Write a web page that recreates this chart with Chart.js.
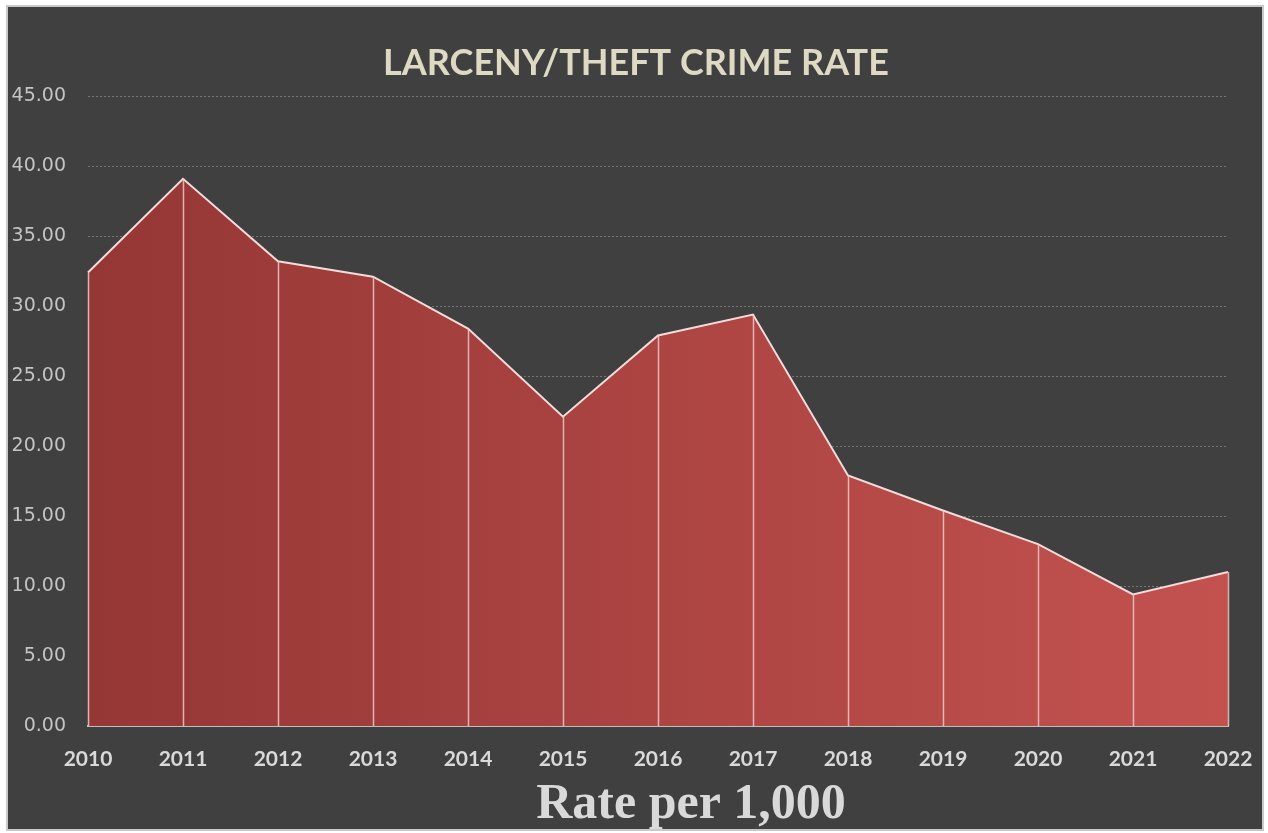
<!DOCTYPE html>
<html>
<head>
<meta charset="utf-8">
<script src="https://cdn.jsdelivr.net/npm/chart.js@4.4.1/dist/chart.umd.min.js"></script>
<style>
html,body{margin:0;padding:0;background:#ffffff;}
#caixa{position:absolute;left:6px;top:5px;width:1254px;height:822px;background:#404040;border:2px solid #c9c9c9;}
canvas{display:block;}
</style>
</head>
<body>
<div id="caixa"><canvas id="grafico"></canvas></div>
<script>

// anos e taxa de furto por 1.000 habitantes
const anos=["2010","2011","2012","2013","2014","2015","2016","2017","2018","2019","2020","2021","2022"];
const taxas=[32.4,39.1,33.2,32.1,28.4,22.1,27.9,29.4,17.9,15.4,13.0,9.4,11.0];

const tituloGrafico="LARCENY/THEFT CRIME RATE";
const tituloEixoX="Rate per 1,000";

///////////////////////////////////////////////////////////////

// linhas verticais de cada ponto até a base
const linhasQueda={
    id:"linhasQueda",
    afterDatasetsDraw(chart){
        const ctx=chart.ctx;
        const meta=chart.getDatasetMeta(0);
        const base=chart.scales.y.getPixelForValue(0);
        ctx.save();
        ctx.strokeStyle="rgba(238,200,200,0.85)";
        ctx.lineWidth=1.5;
        meta.data.forEach(p=>{
            ctx.beginPath();
            ctx.moveTo(Math.round(p.x)+0.5,p.y);
            ctx.lineTo(Math.round(p.x)+0.5,base);
            ctx.stroke();
        });
        ctx.restore();
    }
};

// título do eixo x, em serifa
const tituloEixo={
    id:"tituloEixo",
    afterDraw(chart){
        const ctx=chart.ctx;
        ctx.save();
        ctx.font="bold 50px 'Liberation Serif'";
        ctx.fillStyle="#d9d9d9";
        ctx.textAlign="center";
        ctx.textBaseline="alphabetic";
        ctx.fillText(tituloEixoX,683,811);
        ctx.restore();
    }
};

///////////////////////////////////////////////////////////////

function gradienteArea(context){
    const area=context.chart.chartArea;
    if(!area) return "#a6403d";
    const g=context.chart.ctx.createLinearGradient(area.left,0,area.right,0);
    g.addColorStop(0,"#953735");
    g.addColorStop(1,"#c3524f");
    return g;
}

const ctx=document.getElementById("grafico").getContext("2d");

new Chart(ctx,{

    type:"line",

    data:{
        labels:anos,
        datasets:[{
            data:taxas,
            fill:"origin",
            backgroundColor:gradienteArea,
            borderColor:"#f2dcdb",
            borderWidth:2,
            pointRadius:0,
            tension:0
        }]
    },

    options:{
        responsive:true,
        maintainAspectRatio:false,
        animation:false,
        layout:{
            padding:{left:4,right:2,top:0,bottom:0}
        },
        plugins:{
            legend:{display:false},
            tooltip:{enabled:false},
            title:{
                display:true,
                text:tituloGrafico,
                color:"#ddd9c3",
                font:{family:"Lato",size:36,weight:"bold"},
                padding:{top:35,bottom:11}
            }
        },
        scales:{
            x:{
                offset:false,
                grid:{display:false,drawTicks:false},
                border:{display:true,color:"#bfbfbf",width:2},
                ticks:{
                    color:"#d9d9d9",
                    font:{family:"Lato",size:21,weight:"bold"},
                    padding:21,
                    maxRotation:0,
                    autoSkip:false
                },
                afterFit(scale){
                    scale.height=103;
                    scale.paddingLeft=0;
                    scale.paddingRight=34;
                }
            },
            y:{
                min:0,
                max:45,
                grid:{
                    color:"#777777",
                    lineWidth:1,
                    drawTicks:false
                },
                border:{display:false,dash:[2,2]},
                ticks:{
                    stepSize:5,
                    color:"#c4c4c4",
                    font:{family:"DejaVu Sans",size:19},
                    padding:22,
                    callback:v=>v.toFixed(2)
                },
                afterFit(scale){ scale.width=76; }
            }
        }
    },

    plugins:[linhasQueda,tituloEixo]

});

</script>
</body>
</html>
